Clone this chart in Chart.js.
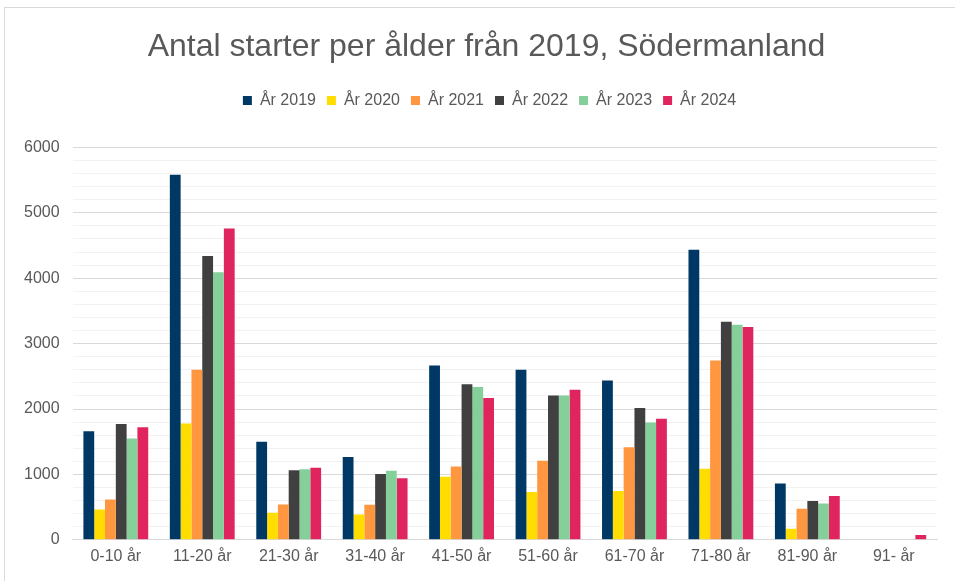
<!DOCTYPE html>
<html>
<head>
<meta charset="utf-8">
<script src="https://cdn.jsdelivr.net/npm/chart.js@4"></script>
<style>
  body { margin: 0; background: #fff; overflow: hidden; }
  #frame { position: absolute; left: 4px; top: 7px; width: 964px; height: 590px; border: 1px solid #d9d9d9; box-sizing: border-box; }
  #chart { position: absolute; left: 4px; top: 7px; }
</style>
</head>
<body>
<div id="frame"></div>
<canvas id="chart"></canvas>
<script>
// åldersgrupper
const categories = ["0-10 år", "11-20 år", "21-30 år", "31-40 år", "41-50 år", "51-60 år", "61-70 år", "71-80 år", "81-90 år", "91- år"];

// antal starter per år
const ar2019 = [1660, 5580, 1500, 1265, 2665, 2600, 2435, 4435, 860, 0];
const ar2020 = [465, 1780, 415, 385, 965, 730, 745, 1085, 170, 0];
const ar2021 = [615, 2600, 540, 535, 1120, 1210, 1415, 2740, 475, 0];
const ar2022 = [1770, 4340, 1065, 1005, 2380, 2205, 2015, 3335, 595, 0];
const ar2023 = [1550, 4090, 1080, 1055, 2335, 2205, 1795, 3290, 555, 8];
const ar2024 = [1720, 4760, 1100, 940, 2170, 2295, 1850, 3255, 670, 72];

const seriesNames = ["År 2019", "År 2020", "År 2021", "År 2022", "År 2023", "År 2024"];
const seriesColors = ["#003865", "#FFDD00", "#FF9640", "#404040", "#85D09A", "#E0245E"];
const seriesData = [ar2019, ar2020, ar2021, ar2022, ar2023, ar2024];

const yTicks = [0, 1000, 2000, 3000, 4000, 5000, 6000];

Chart.defaults.font.family = "'Liberation Sans', Arial, sans-serif";
Chart.defaults.color = "#595959";

// extra luft under legenden
const legendMargin = {
  id: "legendMargin",
  beforeInit(chart) {
    const fit = chart.legend.fit;
    chart.legend.fit = function () {
      fit.bind(chart.legend)();
      this.height += 29;
    };
  },
  // centrera rubrik och legend över hela diagramrutan
  afterLayout(chart) {
    chart.titleBlock.left = 0;
    chart.titleBlock.right = 965;
    chart.legend.left = 0;
    chart.legend.right = 971;
  }
};

const ctx = document.getElementById("chart");
ctx.width = 964;
ctx.height = 574;

new Chart(ctx, {
  type: "bar",
  data: {
    labels: categories,
    datasets: seriesNames.map((name, i) => ({
      label: name,
      data: seriesData[i],
      backgroundColor: seriesColors[i],
      borderWidth: 0,
      barPercentage: 1,
      categoryPercentage: 0.75
    }))
  },
  options: {
    responsive: false,
    animation: false,
    layout: { padding: { left: 7, right: 31, top: 0, bottom: 8 } },
    plugins: {
      title: {
        display: true,
        text: "Antal starter per ålder från 2019, Södermanland",
        font: { size: 32, weight: "normal" },
        color: "#595959",
        padding: { top: 21, bottom: 15 }
      },
      legend: {
        labels: {
          boxWidth: 9,
          boxHeight: 9,
          font: { size: 16 },
          color: "#595959",
          padding: 11
        }
      },
      tooltip: { enabled: false }
    },
    scales: {
      x: {
        grid: { display: false, drawTicks: false },
        border: { color: "#d9d9d9" },
        ticks: { font: { size: 16 }, color: "#595959", padding: 7 }
      },
      y: {
        min: 0,
        max: 6000,
        border: { display: false },
        grid: {
          drawTicks: false,
          color: c => (c.tick && c.tick.value % 1000 === 0) ? "#d9d9d9" : "#f2f2f2"
        },
        ticks: {
          stepSize: 200,
          autoSkip: false,
          font: { size: 16 },
          color: "#595959",
          padding: 13,
          callback: v => yTicks.includes(v) ? v : ""
        }
      }
    }
  },
  plugins: [legendMargin]
});
</script>
</body>
</html>
